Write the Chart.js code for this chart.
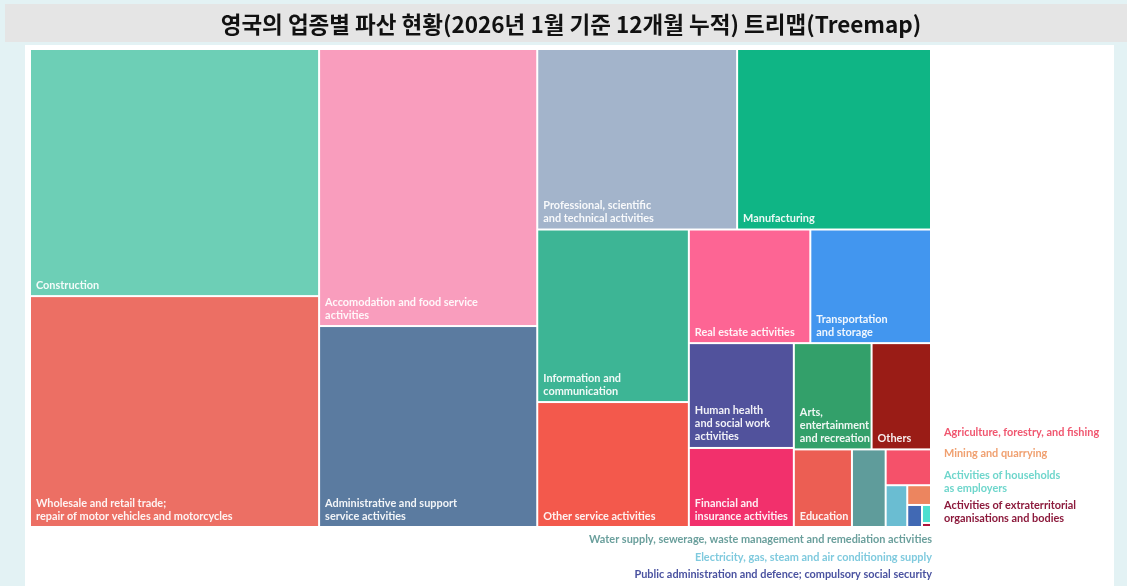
<!DOCTYPE html>
<html>
<head>
<meta charset="utf-8">
<script src="https://cdn.jsdelivr.net/npm/chart.js@4.4.1/dist/chart.umd.min.js"></script>
<style>
  html, body { margin: 0; padding: 0; background: #e3f2f4; }
  canvas { display: block; }
</style>
</head>
<body>
<canvas id="c" width="1127" height="586"></canvas>
<script>
// ---- DATA ----
const chartTitle = '영국의 업종별 파산 현황(2026년 1월 기준 12개월 누적) 트리맵(Treemap)';

const categories = [
  'Construction',
  'Wholesale and retail trade; repair of motor vehicles and motorcycles',
  'Accomodation and food service activities',
  'Administrative and support service activities',
  'Professional, scientific and technical activities',
  'Manufacturing',
  'Information and communication',
  'Other service activities',
  'Real estate activities',
  'Transportation and storage',
  'Human health and social work activities',
  'Financial and insurance activities',
  'Arts, entertainment and recreation',
  'Others',
  'Education',
  'Water supply, sewerage, waste management and remediation activities',
  'Agriculture, forestry, and fishing',
  'Electricity, gas, steam and air conditioning supply',
  'Mining and quarrying',
  'Public administration and defence; compulsory social security',
  'Activities of households as employers',
  'Activities of extraterritorial organisations and bodies'
];

const insolvencies = [3960, 3700, 3350, 2430, 2000, 1940, 1450, 1050, 765, 760, 610, 460, 458, 350, 250, 145, 90, 50, 26, 18, 9, 2];

// the smallest sectors are nested together as one block of the treemap
const minorSectors = [16, 17, 18, 19, 20, 21];

const cellLabels = [
  ['Construction'],
  ['Wholesale and retail trade;', 'repair of motor vehicles and motorcycles'],
  ['Accomodation and food service', 'activities'],
  ['Administrative and support', 'service activities'],
  ['Professional, scientific', 'and technical activities'],
  ['Manufacturing'],
  ['Information and', 'communication'],
  ['Other service activities'],
  ['Real estate activities'],
  ['Transportation', 'and storage'],
  ['Human health', 'and social work', 'activities'],
  ['Financial and', 'insurance activities'],
  ['Arts,', 'entertainment', 'and recreation'],
  ['Others'],
  ['Education'],
  [], [], [], [], [], [], []
];

const outsideLabels = [
  ['Agriculture, forestry, and fishing'],
  ['Mining and quarrying'],
  ['Activities of households', 'as employers'],
  ['Activities of extraterritorial', 'organisations and bodies'],
  ['Water supply, sewerage, waste management and remediation activities'],
  ['Electricity, gas, steam and air conditioning supply'],
  ['Public administration and defence; compulsory social security']
];

// ---- STYLES ----
const cellColors = ['#6dcfb6', '#ec6f64', '#f99dbd', '#5b7ba0', '#a3b4cb', '#0fb585', '#3db595',
  '#f3594c', '#fd6594', '#4296ef', '#51529c', '#f2306c', '#33a06a', '#9a1c16', '#ec5e53',
  '#5f9c9b', '#f5516a', '#6abdd2', '#ec855f', '#4169b4', '#4ddfd0', '#b0143c'];

const outsideStyle = [
  {x: 944, y: 432, align: 'left', color: '#f0566f'},
  {x: 944, y: 453, align: 'left', color: '#f0a070'},
  {x: 944, y: 475, align: 'left', color: '#6fd6cc'},
  {x: 944, y: 505, align: 'left', color: '#8c1a3c'},
  {x: 932, y: 539, align: 'right', color: '#6a9f9c'},
  {x: 932, y: 557, align: 'right', color: '#7fcade'},
  {x: 932, y: 574, align: 'right', color: '#4a52a0'}
];

// ---- squarified treemap layout (Bruls et al.), with nesting ----
function worst(row, len) {
  let s = 0, mx = -Infinity, mn = Infinity;
  for (const a of row) { s += a; if (a > mx) mx = a; if (a < mn) mn = a; }
  const l2 = len * len, s2 = s * s;
  return Math.max(l2 * mx / s2, s2 / (l2 * mn));
}
function squarify(items, X, Y, W, H, out) {
  const total = items.reduce((a, b) => a + b.value, 0);
  const k = (W * H) / total;
  const areas = items.map(it => it.value * k);
  let rx = X, ry = Y, rw = W, rh = H, i = 0;
  const place = (it, r) => {
    if (it.children) squarify(it.children, r.x0, r.y0, r.x1 - r.x0, r.y1 - r.y0, out);
    else out[it.index] = r;
  };
  while (i < areas.length) {
    const len = Math.min(rw, rh);
    let row = [areas[i]], j = i + 1, best = worst(row, len);
    while (j < areas.length) {
      const cand = row.concat(areas[j]);
      const w = worst(cand, len);
      if (w > best) break;
      row = cand; best = w; j++;
    }
    const s = row.reduce((a, b) => a + b, 0);
    if (rw >= rh) {
      const cw = s / rh; let cy = ry;
      row.forEach((a, n) => { const ch = a / cw; place(items[i + n], {x0: rx, y0: cy, x1: rx + cw, y1: cy + ch}); cy += ch; });
      rx += cw; rw -= cw;
    } else {
      const chh = s / rw; let cx = rx;
      row.forEach((a, n) => { const cw = a / chh; place(items[i + n], {x0: cx, y0: ry, x1: cx + cw, y1: ry + chh}); cx += cw; });
      ry += chh; rh -= chh;
    }
    i = j;
  }
  return out;
}
function buildItems() {
  const items = [];
  insolvencies.forEach((v, i) => { if (!minorSectors.includes(i)) items.push({index: i, value: v}); });
  const kids = minorSectors.map(i => ({index: i, value: insolvencies[i]}));
  items.push({children: kids, value: kids.reduce((a, b) => a + b.value, 0)});
  return items;
}

const pagePlugin = {
  id: 'page',
  beforeDraw(chart) {
    const c = chart.ctx;
    c.save();
    c.fillStyle = '#e3f2f4';
    c.fillRect(0, 0, chart.width, chart.height);
    c.fillStyle = '#e5e5e5';
    c.fillRect(5, 4, chart.width - 5, 38);
    c.fillStyle = '#ffffff';
    c.fillRect(25, 45, 1114 - 25, chart.height - 45);
    c.fillStyle = '#111111';
    c.font = 'bold 22.5px "Noto Sans CJK KR", "Noto Sans", sans-serif';
    c.textAlign = 'center';
    c.textBaseline = 'middle';
    c.fillText(chartTitle, 571, 24);
    c.restore();
  }
};

const treemapPlugin = {
  id: 'treemapCells',
  afterDatasetsDraw(chart) {
    const xs = chart.scales.x, ys = chart.scales.y, area = chart.chartArea;
    const W = area.right - area.left, H = area.bottom - area.top;
    const rects = squarify(buildItems(), 0, 0, W, H, []);
    const c = chart.ctx;
    c.save();
    rects.forEach((r, i) => {
      // layout is proportional to the plot area; convert to data units, then through the scales
      const px0 = xs.getPixelForValue(r.x0 / W * 100);
      const px1 = xs.getPixelForValue(r.x1 / W * 100);
      const py0 = ys.getPixelForValue(r.y0 / H * 100);
      const py1 = ys.getPixelForValue(r.y1 / H * 100);
      c.fillStyle = cellColors[i];
      c.fillRect(px0 + 1, py0 + 1, Math.max(0, px1 - px0 - 2), Math.max(0, py1 - py0 - 2));
      const lines = cellLabels[i];
      if (lines && lines.length) {
        c.fillStyle = 'rgba(255,255,255,0.92)';
        c.font = 'bold 10.9px Lato, "Open Sans", sans-serif';
        c.textAlign = 'left';
        c.textBaseline = 'middle';
        const lh = 13;
        lines.forEach((t, k) => {
          const y = py1 - 11 - (lines.length - 1 - k) * lh;
          c.fillText(t, px0 + 6, y);
        });
      }
    });
    // labels for the small cells, placed outside the plot
    c.font = 'bold 10.9px Lato, "Open Sans", sans-serif';
    c.textBaseline = 'middle';
    outsideLabels.forEach((lines, k) => {
      const st = outsideStyle[k];
      c.fillStyle = st.color;
      c.textAlign = st.align;
      lines.forEach((t, j) => c.fillText(t, st.x, st.y + j * 13));
    });
    c.restore();
  }
};

function build() {
  new Chart(document.getElementById('c'), {
    type: 'scatter',
    data: { datasets: [{ label: 'Insolvencies', data: [], pointRadius: 0 }] },
    options: {
      responsive: false,
      animation: false,
      devicePixelRatio: 1,
      layout: { padding: { left: 30, right: 1127 - 931, top: 49, bottom: 586 - 527 } },
      scales: {
        x: { type: 'linear', min: 0, max: 100, display: false },
        y: { type: 'linear', min: 0, max: 100, reverse: true, display: false }
      },
      plugins: { legend: { display: false }, tooltip: { enabled: false }, title: { display: false } }
    },
    plugins: [pagePlugin, treemapPlugin]
  });
}
Promise.all([
  document.fonts.load('bold 10px Lato'),
  document.fonts.load('bold 21px "Noto Sans CJK KR"')
]).then(build, build);
</script>
</body>
</html>
